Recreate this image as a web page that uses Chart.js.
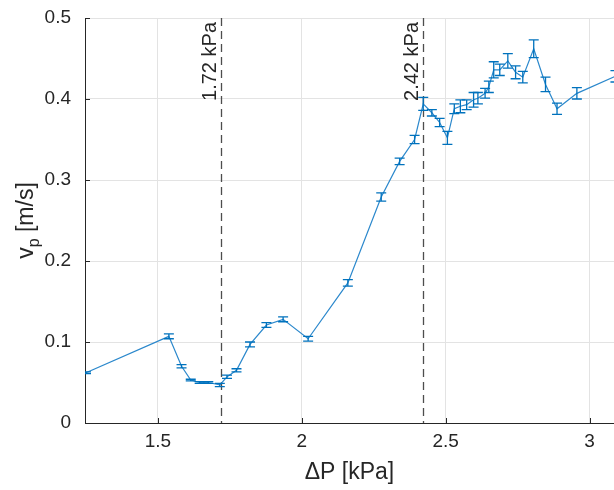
<!DOCTYPE html>
<html>
<head>
<meta charset="utf-8">
<script src="https://cdn.jsdelivr.net/npm/chart.js@4/dist/chart.umd.min.js"></script>
<style>
  html, body { margin: 0; padding: 0; background: #fff; }
  #wrap { width: 614px; height: 490px; }
</style>
</head>
<body>
<div id="wrap"><canvas id="c" width="614" height="490"></canvas></div>
<script>
// Pressure difference across the sample [kPa]
const deltaP = [1.25, 1.538, 1.582, 1.614, 1.645, 1.675, 1.715, 1.74, 1.773, 1.82,
  1.877, 1.935, 2.022, 2.16, 2.276, 2.34, 2.392, 2.422, 2.452, 2.479,
  2.506, 2.53, 2.551, 2.573, 2.597, 2.612, 2.637, 2.65, 2.667, 2.688,
  2.716, 2.743, 2.768, 2.806, 2.847, 2.887, 2.956, 3.09];
// Particle velocity [m/s]
const velocity = [0.062, 0.107, 0.070, 0.053, 0.050, 0.050, 0.047, 0.057, 0.065, 0.097,
  0.121, 0.128, 0.104, 0.173, 0.279, 0.323, 0.350, 0.394, 0.383, 0.371,
  0.352, 0.388, 0.391, 0.393, 0.399, 0.401, 0.407, 0.415, 0.436, 0.436,
  0.447, 0.433, 0.427, 0.462, 0.418, 0.388, 0.407, 0.428];
// Half-width of the error bars [m/s]
const velocityErr = [0.001, 0.003, 0.002, 0.001, 0.001, 0.001, 0.002, 0.002, 0.002, 0.003,
  0.003, 0.003, 0.003, 0.004, 0.005, 0.004, 0.005, 0.008, 0.004, 0.005,
  0.008, 0.006, 0.008, 0.006, 0.009, 0.007, 0.006, 0.007, 0.010, 0.007,
  0.009, 0.008, 0.007, 0.011, 0.009, 0.007, 0.007, 0.007];
// Threshold pressures marked with dashed lines [kPa]
const thresholds = [1.72, 2.42];
// Tick positions
const xTicks = [1.5, 2, 2.5, 3];
const yTicks = [0, 0.1, 0.2, 0.3, 0.4, 0.5];

const AXIS = '#262626';
const BLUE = '#0072BD';
const FONT = 'Arial, "Liberation Sans", Helvetica, sans-serif';

const errorBars = {
  id: 'errorBars',
  afterDatasetsDraw(chart) {
    const { ctx, scales: { x, y }, chartArea: a } = chart;
    ctx.save();
    ctx.beginPath();
    ctx.rect(a.left, a.top, a.right - a.left, a.bottom - a.top);
    ctx.clip();
    ctx.strokeStyle = BLUE;
    ctx.lineWidth = 1.3;
    const cap = 5;
    deltaP.forEach((p, i) => {
      const px = x.getPixelForValue(p);
      const yTop = y.getPixelForValue(velocity[i] + velocityErr[i]);
      const yBot = y.getPixelForValue(velocity[i] - velocityErr[i]);
      ctx.beginPath();
      ctx.moveTo(px, yTop); ctx.lineTo(px, yBot);
      ctx.moveTo(px - cap, yTop); ctx.lineTo(px + cap, yTop);
      ctx.moveTo(px - cap, yBot); ctx.lineTo(px + cap, yBot);
      ctx.stroke();
    });
    ctx.restore();
  }
};

const thresholdLines = {
  id: 'thresholdLines',
  beforeDatasetsDraw(chart) {
    const { ctx, scales: { x }, chartArea: a } = chart;
    ctx.save();
    thresholds.forEach(t => {
      const px = Math.round(x.getPixelForValue(t)) + 0.5;
      ctx.strokeStyle = '#4d4d4d';
      ctx.lineWidth = 1.3;
      ctx.setLineDash([8, 5]);
      ctx.beginPath();
      ctx.moveTo(px, a.top);
      ctx.lineTo(px, a.bottom);
      ctx.stroke();
      ctx.setLineDash([]);
      ctx.save();
      ctx.translate(px - 6, a.top + 4);
      ctx.rotate(-Math.PI / 2);
      ctx.fillStyle = AXIS;
      ctx.font = '20px ' + FONT;
      ctx.textAlign = 'right';
      ctx.textBaseline = 'alphabetic';
      ctx.fillText(t.toFixed(2) + ' kPa', 0, 0);
      ctx.restore();
    });
    ctx.restore();
  }
};

const axisDecor = {
  id: 'axisDecor',
  afterDraw(chart) {
    const { ctx, scales: { x, y }, chartArea: a } = chart;
    ctx.save();
    ctx.strokeStyle = AXIS;
    ctx.lineWidth = 1;
    const len = 5;
    // inward tick marks
    xTicks.forEach(v => {
      const px = Math.round(x.getPixelForValue(v)) + 0.5;
      ctx.beginPath(); ctx.moveTo(px, a.bottom); ctx.lineTo(px, a.bottom - len); ctx.stroke();
    });
    yTicks.forEach(v => {
      const py = Math.round(y.getPixelForValue(v)) + 0.5;
      ctx.beginPath(); ctx.moveTo(a.left, py); ctx.lineTo(a.left + len, py); ctx.stroke();
    });
    // y-axis title with subscript
    ctx.fillStyle = AXIS;
    ctx.translate(33, (a.top + a.bottom) / 2);
    ctx.rotate(-Math.PI / 2);
    ctx.textBaseline = 'alphabetic';
    ctx.textAlign = 'left';
    const big = '23px ' + FONT, small = '16px ' + FONT;
    ctx.font = big; const wv = ctx.measureText('v').width;
    ctx.font = small; const wp = ctx.measureText('p').width;
    ctx.font = big; const wr = ctx.measureText(' [m/s]').width;
    let cx = -(wv + wp + wr) / 2;
    ctx.font = big; ctx.fillText('v', cx, 0); cx += wv;
    ctx.font = small; ctx.fillText('p', cx, 6); cx += wp;
    ctx.font = big; ctx.fillText(' [m/s]', cx, 0);
    ctx.restore();
  }
};

new Chart(document.getElementById('c'), {
  type: 'line',
  data: {
    datasets: [{
      data: deltaP.map((p, i) => ({ x: p, y: velocity[i] })),
      borderColor: '#2b88cc',
      borderWidth: 1.2,
      pointRadius: 0,
      tension: 0,
      fill: false
    }]
  },
  options: {
    responsive: false,
    animation: false,
    layout: { padding: { left: 0, right: 0, top: 18, bottom: 0 } },
    plugins: { legend: { display: false }, tooltip: { enabled: false } },
    scales: {
      x: {
        type: 'linear',
        min: 1.2465,
        max: 3.085,
        afterBuildTicks(s) { s.ticks = xTicks.map(v => ({ value: v })); },
        afterFit(s) { s.height = 67; s.paddingLeft = 0; s.paddingRight = 0; },
        grid: { color: '#e3e3e3', lineWidth: 1, drawTicks: false },
        border: { color: AXIS, width: 1 },
        ticks: { color: AXIS, font: { family: FONT, size: 19 }, padding: 7, maxRotation: 0,
                 callback: v => String(v) },
        title: { display: true, text: 'ΔP [kPa]', color: AXIS, font: { family: FONT, size: 23 }, padding: { top: 0 } }
      },
      y: {
        min: 0,
        max: 0.5,
        afterBuildTicks(s) { s.ticks = yTicks.map(v => ({ value: v })); },
        afterFit(s) { s.width = 85; s.paddingTop = 0; s.paddingBottom = 0; },
        grid: { color: '#e3e3e3', lineWidth: 1, drawTicks: false },
        border: { color: AXIS, width: 1 },
        ticks: { color: AXIS, font: { family: FONT, size: 19 }, padding: 14, callback: v => String(v) }
      }
    }
  },
  plugins: [thresholdLines, errorBars, axisDecor]
});
</script>
</body>
</html>
